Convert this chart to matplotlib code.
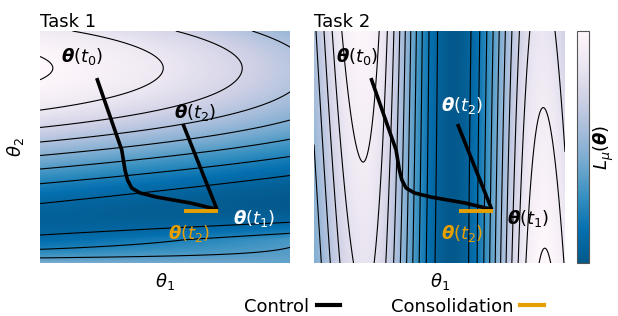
import numpy as np
import matplotlib
matplotlib.use("Agg")
import matplotlib.pyplot as plt
from matplotlib.colors import LinearSegmentedColormap
from matplotlib.lines import Line2D

plt.rcParams['font.family'] = ['DejaVu Sans']
plt.rcParams['mathtext.fontset'] = 'dejavusans'

# ---------------- data ----------------
panel_titles = ["Task 1", "Task 2"]
legend_labels = ["Control", "Consolidation"]

# optimisation path (axes fraction coords, same in both panels)
path_u = [0.227, 0.327, 0.340, 0.350, 0.367, 0.400, 0.467, 0.600, 0.708]
path_v = [0.797, 0.487, 0.401, 0.358, 0.323, 0.302, 0.284, 0.259, 0.231]
control_u = [0.708, 0.572]
control_v = [0.231, 0.599]
consol_u = [0.577, 0.713]
consol_v = [0.224, 0.224]

# landscape parameters
# task 1: ridge at top-left, valley along the bottom
t1_ridge_v, t1_quartic = 0.84, 1.165
t1_u0, t1_uscale, t1_gfloor = -0.68, 29.0, 0.14
t1_valley_v = 0.185
t1_shear_knots_v = [0.0, 0.10, 0.20, 0.45, 0.84, 1.0]
t1_shear_knots_s = [0.0, 0.085, 0.085, 0.055, 0.0, 0.0]
# task 2: two ridges along theta2 with opposite tilt
t2_peak, t2_period, t2_tilt, t2_shear = 0.19, 0.72, 0.33, 0.01
t2_left_close, t2_right_close = 0.435, 0.67
t2_left_lift = 0.3
levels1 = -0.0025 - 0.029 * np.arange(0, 13)[::-1]
levels2 = np.arange(-0.8, 1.25, 0.2)

# label positions per panel: (text, u, v, color)
labels_p1 = [(r"$\boldsymbol{\theta}(t_0)$", 0.168, 0.888, "black"),
             (r"$\boldsymbol{\theta}(t_2)$", 0.620, 0.647, "black"),
             (r"$\boldsymbol{\theta}(t_1)$", 0.856, 0.190, "white"),
             (r"$\boldsymbol{\theta}(t_2)$", 0.596, 0.129, "#E69F00")]
labels_p2 = [(r"$\boldsymbol{\theta}(t_0)$", 0.172, 0.888, "black"),
             (r"$\boldsymbol{\theta}(t_2)$", 0.590, 0.681, "white"),
             (r"$\boldsymbol{\theta}(t_1)$", 0.853, 0.190, "black"),
             (r"$\boldsymbol{\theta}(t_2)$", 0.590, 0.129, "#E69F00")]

# ---------------- landscapes ----------------
n = 400
u = np.linspace(0, 1, n)
v = np.linspace(0, 1, n)
U, V = np.meshgrid(u, v)

S = np.interp(V, t1_shear_knots_v, t1_shear_knots_s)
VS = V - S * U
Wd = t1_ridge_v - VS
P = -Wd ** 2 + t1_quartic * Wd ** 4
T = np.clip((VS - t1_valley_v) / (t1_ridge_v - t1_valley_v), 0, 1)
G = t1_gfloor + (1 - t1_gfloor) * np.sin(0.5 * np.pi * T) ** 2
L1 = P - ((U - t1_u0) ** 2 - t1_u0 ** 2) / t1_uscale * G

X2 = (U - t2_peak - t2_shear * (1 - V)) / t2_period
peakL = (1 + np.cos(np.pi * X2)) / 2
peakR = (1 - np.cos(np.pi * X2)) / 2
L2 = (np.cos(2 * np.pi * X2) + t2_tilt * (V - t2_left_close) * peakL
      + t2_tilt * (t2_right_close - V) * peakR
      + t2_left_lift * np.clip((t2_peak - U) / t2_peak, 0, 1) ** 2)

base = plt.get_cmap('PuBu')
cmap = LinearSegmentedColormap.from_list('pubu_t', base(np.linspace(0, 0.875, 256))[::-1])

W, H = 618, 316
fig = plt.figure(figsize=(W / 100, H / 100), dpi=100)
ax1 = fig.add_axes([40 / W, 53 / H, 250 / W, 232 / H])
ax2 = fig.add_axes([314 / W, 53 / H, 251 / W, 232 / H])
cax = fig.add_axes([577 / W, 53 / H, 12 / W, 232 / H])

orange = "#E69F00"
for ax, L, lev, title, labs in [(ax1, L1, levels1, panel_titles[0], labels_p1),
                                (ax2, L2, levels2, panel_titles[1], labels_p2)]:
    im = ax.imshow(L, extent=[0, 1, 0, 1], origin='lower', aspect='auto', cmap=cmap,
                   interpolation='bilinear')
    ax.contour(U, V, L, levels=lev, colors='black', linewidths=0.8, linestyles='solid')
    ax.plot(path_u, path_v, color='black', lw=2.6, solid_capstyle='butt', solid_joinstyle='round')
    ax.plot(control_u, control_v, color='black', lw=2.6, solid_capstyle='butt')
    ax.plot(consol_u, consol_v, color=orange, lw=2.8, solid_capstyle='butt')
    for txt, tu, tv, col in labs:
        ax.text(tu, tv, txt, color=col, fontsize=13, ha='center', va='center',
                transform=ax.transAxes, clip_on=False)
    ax.set_xlim(0, 1)
    ax.set_ylim(0, 1)
    ax.set_xticks([])
    ax.set_yticks([])
    for s in ax.spines.values():
        s.set_visible(False)
    ax.set_title(title, loc='left', fontsize=13, pad=3)
    ax.set_xlabel(r"$\theta_1$", fontsize=13, labelpad=6)

ax1.set_ylabel(r"$\theta_2$", fontsize=13, labelpad=10)

cb = fig.colorbar(im, cax=cax)
cb.set_ticks([])
cb.outline.set_edgecolor('#555555')
cb.outline.set_linewidth(0.8)
cb.set_label(r"$L_\mu(\boldsymbol{\theta})$", fontsize=13, labelpad=2)

handles = [Line2D([], [], color='black', lw=3), Line2D([], [], color=orange, lw=3)]
fig.legend(handles, legend_labels, loc='lower center', bbox_to_anchor=(394 / W, -0.05),
           ncol=2, frameon=False, markerfirst=False, fontsize=13, handlelength=1.3,
           handletextpad=0.4, columnspacing=2.8)

fig.savefig("out.png", dpi=100)
